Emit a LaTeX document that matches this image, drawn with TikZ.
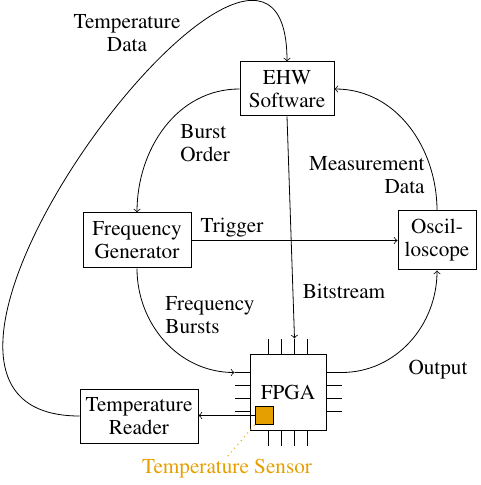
\documentclass[tikz,border=0pt]{standalone}
\usepackage[T1]{fontenc}
\usepackage{times}
\usetikzlibrary{calc}
\definecolor{sensororange}{HTML}{E69F00}
\begin{document}
\begin{tikzpicture}[x=0.5pt,y=-0.5pt,
  font=\rmfamily\fontsize{10.6}{11.5}\selectfont,
  box/.style={draw, line width=0.5pt, align=center, inner sep=1pt},
  conn/.style={->, line width=0.4pt},
  lbl/.style={inner sep=1pt},
  pin/.style={line width=0.4pt}]
\useasboundingbox (0,0) rectangle (480,485);
% blocks
\node[box, minimum width=47pt, minimum height=27pt] (ehw) at (287,89) {EHW\\Software};
\node[box, minimum width=54pt, minimum height=27.5pt] (fg) at (137,240.5) {Frequency\\Generator};
\node[box, minimum width=39pt, minimum height=29.5pt] (osc) at (437,240.5) {Oscil-\\loscope};
\node[box, minimum width=59pt, minimum height=27pt] (tr) at (139,416) {Temperature\\Reader};
\node[box, minimum size=38pt] (fpga) at (288,392) {FPGA};
\node[draw, line width=0.5pt, fill=sensororange, minimum size=9pt, inner sep=0pt] (sensor) at (264,415.5) {};
% pins
\foreach \d in {-19.5,-6.5,6.5,19.5} {
  \draw[pin] ($(fpga.north)+(\d,0)$) -- ++(0,-15);
  \draw[pin] ($(fpga.south)+(\d,0)$) -- ++(0,15);
  \draw[pin] ($(fpga.west)+(0,\d)$) -- ++(-15,0);
  \draw[pin] ($(fpga.east)+(0,\d)$) -- ++(15,0);
}
\coordinate (ft3) at ($(fpga.north)+(6.5,-15)$);
\coordinate (fl1) at ($(fpga.west)+(-15,-19.5)$);
\coordinate (fr1) at ($(fpga.east)+(15,-19.5)$);
% labels
\node[lbl, align=center] (tdata) at (127,33) {Temperature\\Data};
\node[lbl, align=left, anchor=west] (border) at (178,143) {Burst\\Order};
\node[lbl, align=right, anchor=east] (meas) at (427,175) {Measurement\\Data};
\node[lbl, align=left, anchor=west] (fburst) at (163,315) {Frequency\\Bursts};
\node[lbl] (bits) at (344,291) {Bitstream};
\node[lbl] (trig) at (232,228) {Trigger};
\node[lbl] (outp) at (438,370) {Output};
\node[lbl, text=sensororange] (slabel) at (227,469) {Temperature Sensor};
% connectors
\draw[conn] (tr.west) .. controls +(-255,0) and +(0,-250) .. (ehw.north);
\draw[conn] (ehw.west) to[out=180,in=90] (fg.north);
\draw[conn] (ehw.south) -- (ft3);
\draw[conn] (osc.north) to[out=90,in=0] (ehw.east);
\draw[conn] (fg.east) -- (osc.west);
\draw[conn] (fg.south) to[out=-90,in=180] (fl1);
\draw[conn] (fr1) to[out=0,in=-90] (osc.south);
\draw[conn] (sensor.west) -- (sensor.west -| tr.east);
\draw[sensororange, dotted, line width=0.5pt] (sensor.south west) -- (slabel.north);
\end{tikzpicture}
\end{document}
